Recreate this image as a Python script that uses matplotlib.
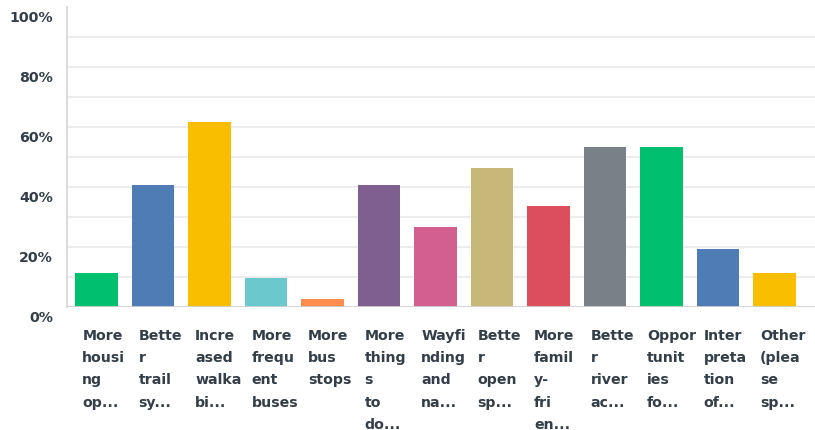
import numpy as np
import matplotlib.pyplot as plt
from matplotlib import transforms

# answer options, as the chart wraps them
options = [
    "More\nhousi\nng\nop...",
    "Bette\nr\ntrail\nsy...",
    "Incre\nased\nwalka\nbi...",
    "More\nfrequ\nent\nbuses",
    "More\nbus\nstops",
    "More\nthing\ns\nto\ndo...",
    "Wayfi\nnding\nand\nna...",
    "Bette\nr\nopen\nsp...",
    "More\nfamil\ny-\nfri\nen...",
    "Bette\nr\nriver\nac...",
    "Oppor\ntunit\nies\nfo...",
    "Inter\npreta\ntion\nof...",
    "Other\n(plea\nse\nsp...",
]
percent = [11.4, 40.7, 61.7, 9.8, 2.6, 40.6, 26.6, 46.3, 33.6, 53.3, 53.3, 19.2, 11.2]
bar_colors = ["#00bf6f", "#507cb6", "#f9be00", "#6bc8cd", "#ff8b4f", "#7f5f90",
              "#d25f90", "#c7b879", "#dc4e5d", "#7a8088", "#00bf6f", "#507cb6", "#f9be00"]
ytick_vals = [0, 20, 40, 60, 80, 100]
ytick_labels = ["0%", "20%", "40%", "60%", "80%", "100%"]

txt_color = "#333e48"
font = ["DejaVu Sans"]

fig = plt.figure(figsize=(8.15, 4.3), dpi=100)
ax = fig.add_axes([67 / 815, 123 / 430, 1 - 67 / 815, 300 / 430])

x = np.arange(len(options))
ax.bar(x, percent, width=0.75, color=bar_colors, zorder=3)

ax.set_xlim(-0.52, 12.72)
ax.set_ylim(0, 100)

# light gridlines every 10%
for g in range(10, 100, 10):
    ax.axhline(g, color="#ededed", lw=1.5, zorder=1)
ax.axhline(0, color="#d0d0d0", lw=2, zorder=4)

for s in ["top", "right", "bottom"]:
    ax.spines[s].set_visible(False)
ax.spines["left"].set_color("#dcdcdc")
ax.spines["left"].set_linewidth(1.5)

ax.set_xticks([])
ax.set_yticks([])

# y labels sit a little under their gridline
ydown = transforms.ScaledTranslation(0, -10.5 / 100, fig.dpi_scale_trans)
ytrans = transforms.blended_transform_factory(ax.transAxes, ax.transData) + ydown
for v, lab in zip(ytick_vals, ytick_labels):
    ax.text(-14 / 748, v, lab, transform=ytrans, ha="right", va="center",
            fontsize=10.2, fontweight="bold", color=txt_color, family=font,
            clip_on=False)

# wrapped category labels under the bars
xtrans = transforms.blended_transform_factory(ax.transData, ax.transAxes)
for i, lab in enumerate(options):
    ax.text(i - 0.25, -0.072, lab, transform=xtrans, ha="left", va="top",
            fontsize=10.2, fontweight="bold", color=txt_color, family=font,
            linespacing=1.76, clip_on=False)

fig.savefig("out.png", dpi=100)
